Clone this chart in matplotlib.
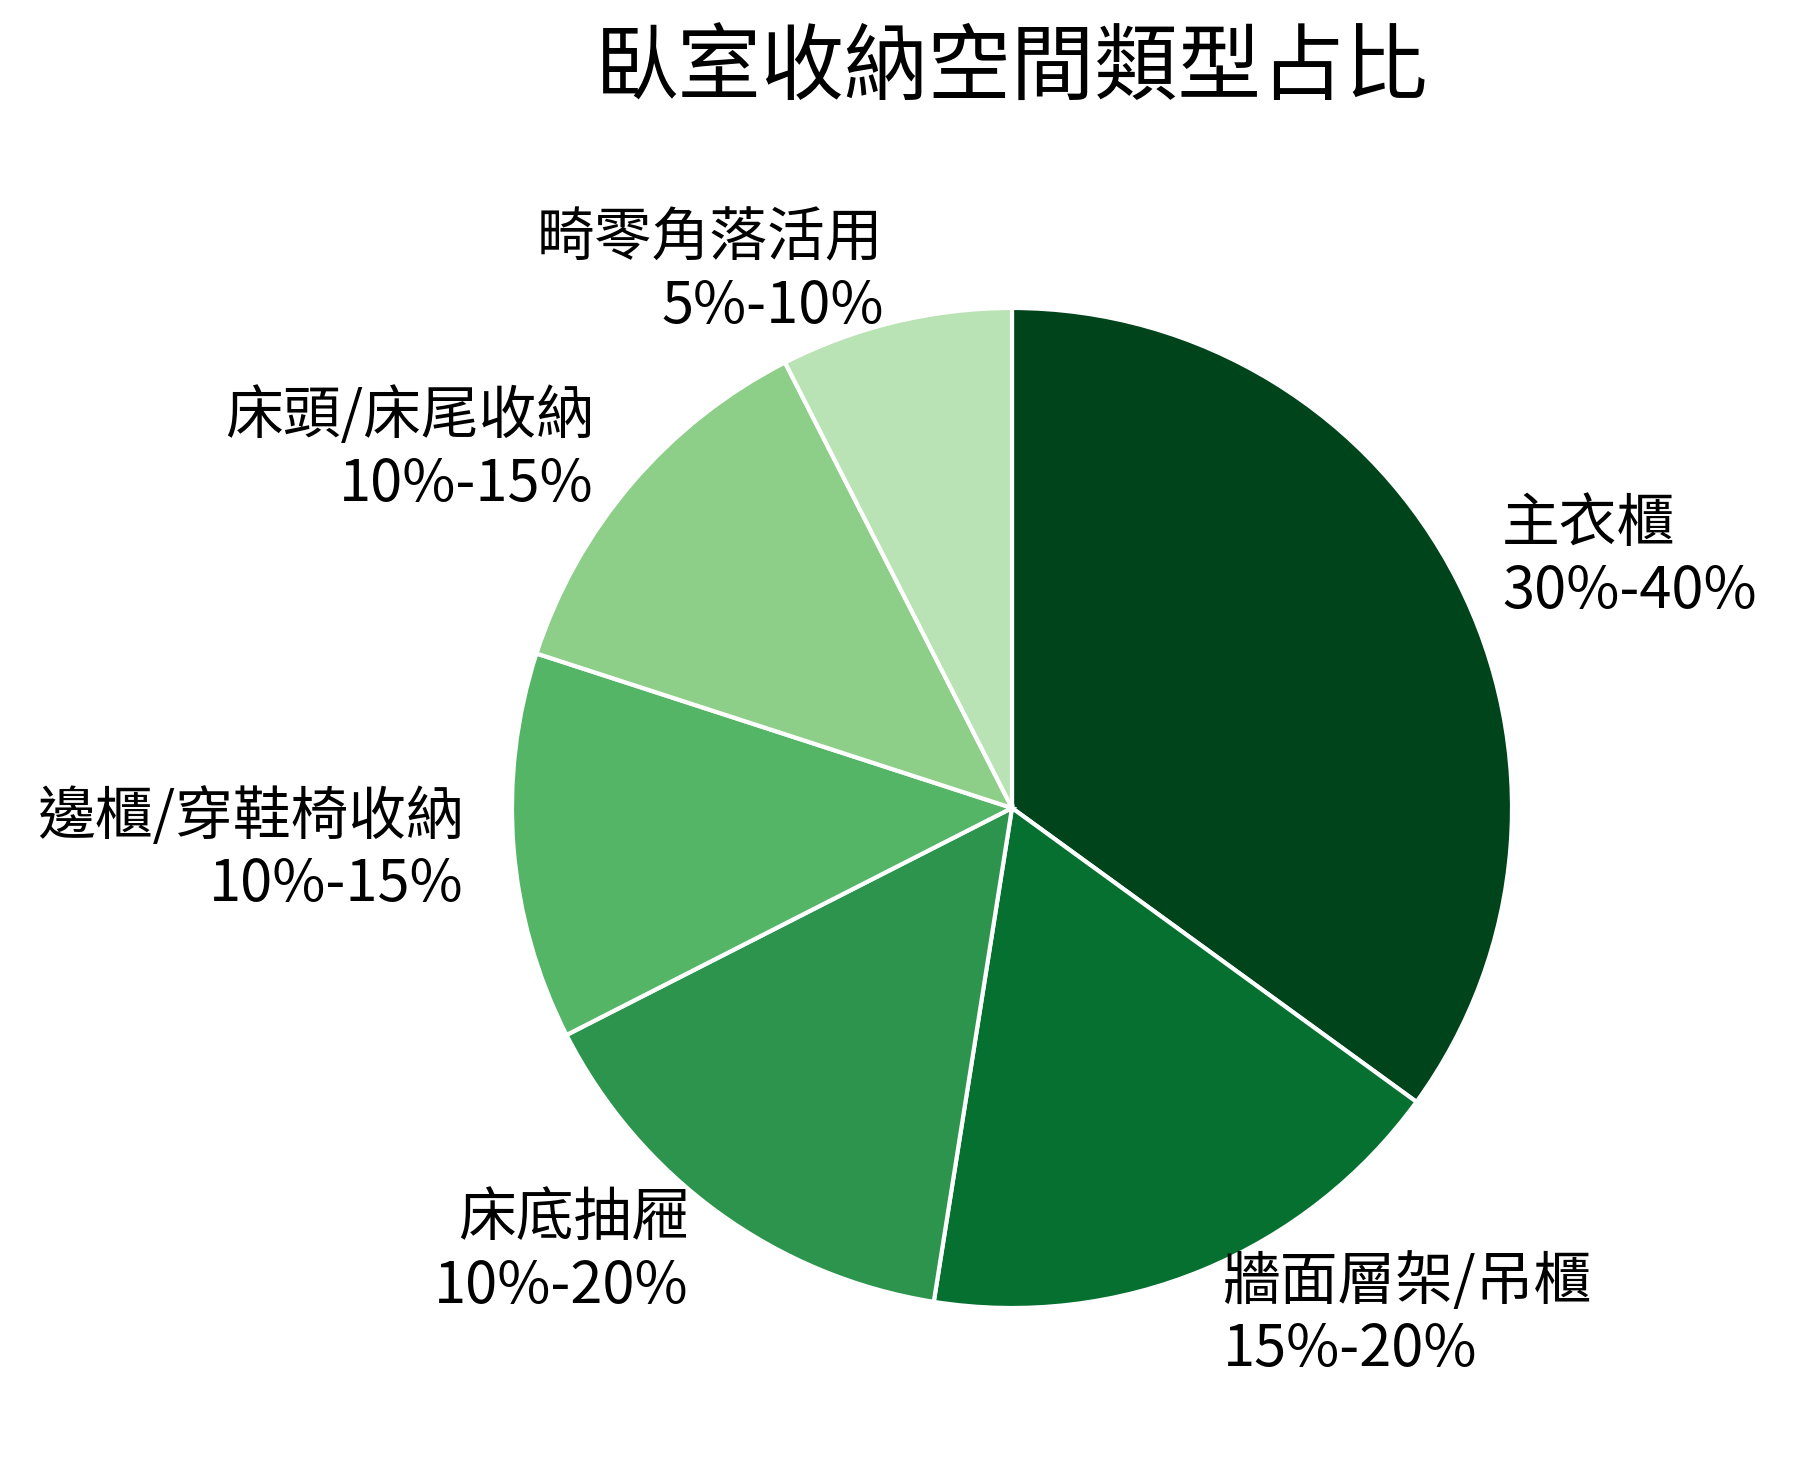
import matplotlib
matplotlib.use("Agg")
import matplotlib.pyplot as plt

plt.rcParams["font.family"] = ["Noto Sans CJK TC", "DejaVu Sans"]

# 各類型取區間中位數作為占比
categories = ["主衣櫃", "牆面層架/吊櫃", "床底抽屜", "邊櫃/穿鞋椅收納", "床頭/床尾收納", "畸零角落活用"]
ranges = ["30%-40%", "15%-20%", "10%-20%", "10%-15%", "10%-15%", "5%-10%"]
shares = [35, 17.5, 15, 12.5, 12.5, 7.5]
colors = ["#00441b", "#067030", "#2c944c", "#55b567", "#8dce88", "#b9e3b4"]

labels = [f"{c}\n{r}" for c, r in zip(categories, ranges)]

fig = plt.figure(figsize=(8.965, 7.34), dpi=200)
# 圓心約在 (1012, 808) px，半徑約 500 px
cx, cy, r = 1012 / 1793, 1 - 808 / 1468, 500
ax = fig.add_axes([cx - r / 1793, cy - r / 1468, 2 * r / 1793, 2 * r / 1468])

wedges, texts = ax.pie(
    shares,
    labels=labels,
    colors=colors,
    startangle=90,
    counterclock=False,
    labeldistance=1.1,
    wedgeprops=dict(edgecolor="white", linewidth=1.5),
    textprops=dict(fontsize=20.8),
)
ax.set_xlim(-1, 1)
ax.set_ylim(-1, 1)
ax.set_aspect("equal")

fig.text(1012 / 1793, 1 - 70 / 1468, "臥室收納空間類型占比", ha="center", va="center",
         fontsize=30, fontweight="medium")

fig.savefig("out.png", dpi=200, facecolor="white")
